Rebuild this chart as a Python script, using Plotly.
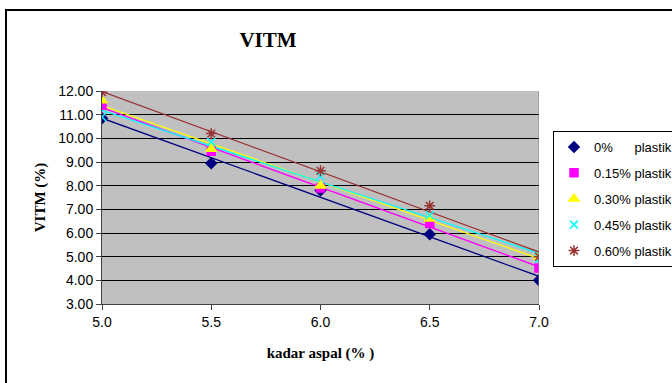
import numpy as np
import plotly.graph_objects as go

kadar_aspal = [5.0, 5.5, 6.0, 6.5, 7.0]
series_names = ["0%\u00a0\u00a0\u00a0\u00a0\u00a0 plastik", "0.15% plastik", "0.30% plastik",
                "0.45% plastik", "0.60% plastik"]
vitm_0 = [10.85, 8.95, 7.80, 5.95, 4.00]
vitm_015 = [11.40, 9.45, 7.90, 6.40, 4.52]
vitm_030 = [11.60, 9.55, 8.00, 6.60, 5.00]
vitm_045 = [10.90, 9.85, 8.40, 6.75, 4.90]
vitm_060 = [11.95, 10.20, 8.63, 7.15, 5.00]
y_ticks = [3, 4, 5, 6, 7, 8, 9, 10, 11, 12]
x_ticks = [5.0, 5.5, 6.0, 6.5, 7.0]

all_series = [vitm_0, vitm_015, vitm_030, vitm_045, vitm_060]
colors = ["#000080", "#FF00FF", "#FFFF00", "#00FFFF", "#993333"]
symbols = ["diamond", "square", "triangle-up", "x-thin-open", "asterisk-open"]
sizes = [8, 8, 9, 8, 9]

fig = go.Figure()
x = np.array(kadar_aspal)
for name, ys, c, s, sz in zip(series_names, all_series, colors, symbols, sizes):
    slope, intercept = np.polyfit(x, np.array(ys), 1)
    fig.add_trace(go.Scatter(x=x, y=slope * x + intercept, mode="lines",
                             line=dict(color=c, width=1.3), showlegend=False,
                             hoverinfo="skip"))
for i, (name, ys, c, s, sz) in enumerate(zip(series_names, all_series, colors, symbols, sizes)):
    fig.add_trace(go.Scatter(x=kadar_aspal, y=ys, mode="markers", name=name,
                             legendgroup=f"g{i}",
                             marker=dict(color=c, symbol=s, size=sz,
                                         line=dict(color=c, width=1.5))))

serif = "Liberation Serif, Times New Roman, serif"
sans = "Liberation Sans, Arial, sans-serif"

fig.update_layout(
    width=672, height=383,
    margin=dict(l=102, r=133, t=91, b=79, autoexpand=False),
    paper_bgcolor="white",
    plot_bgcolor="#C0C0C0",
    title=dict(text="<b>VITM</b>", x=268 / 672, xanchor="center", y=1 - 40 / 383,
               yanchor="middle", font=dict(family=serif, size=21, color="black")),
    font=dict(family=sans, size=14, color="black"),
    xaxis=dict(range=[5.0, 7.0], tickvals=x_ticks, ticktext=[f"{v:.1f}" for v in x_ticks],
               showgrid=False, zeroline=False, showline=True, linecolor="#404040",
               linewidth=1, ticks="outside", ticklen=5, tickcolor="#404040",
               automargin=False,
               title=dict(text="<b>kadar aspal (% )</b>", standoff=18,
                          font=dict(family=serif, size=15))),
    yaxis=dict(range=[3, 12], tickvals=y_ticks, ticktext=[f"{v:.2f}" for v in y_ticks],
               showgrid=True, gridcolor="black", gridwidth=1, zeroline=False,
               showline=True, linecolor="#404040", linewidth=1, ticks="outside",
               ticklen=5, tickcolor="#404040", automargin=False,
               title=dict(text="<b>VITM (%)</b>", standoff=8,
                          font=dict(family=serif, size=15))),
    legend=dict(xref="container", yref="container", x=553 / 672, xanchor="left",
                y=1 - 131 / 383, yanchor="top",
                bgcolor="white", bordercolor="black", borderwidth=1,
                font=dict(family=sans, size=13),
                itemwidth=30, tracegroupgap=6),
    shapes=[
        dict(type="rect", xref="paper", yref="paper",
             x0=(6 - 102) / 437, x1=(700 - 102) / 437,
             y0=(304 - 400) / 213, y1=(304 - 10) / 213,
             line=dict(color="black", width=2), fillcolor="rgba(0,0,0,0)", layer="below"),
        dict(type="line", xref="x", yref="paper", x0=7.0, x1=7.0, y0=0, y1=1,
             line=dict(color="#808080", width=1)),
    ],
)

fig.write_html("out.html")
